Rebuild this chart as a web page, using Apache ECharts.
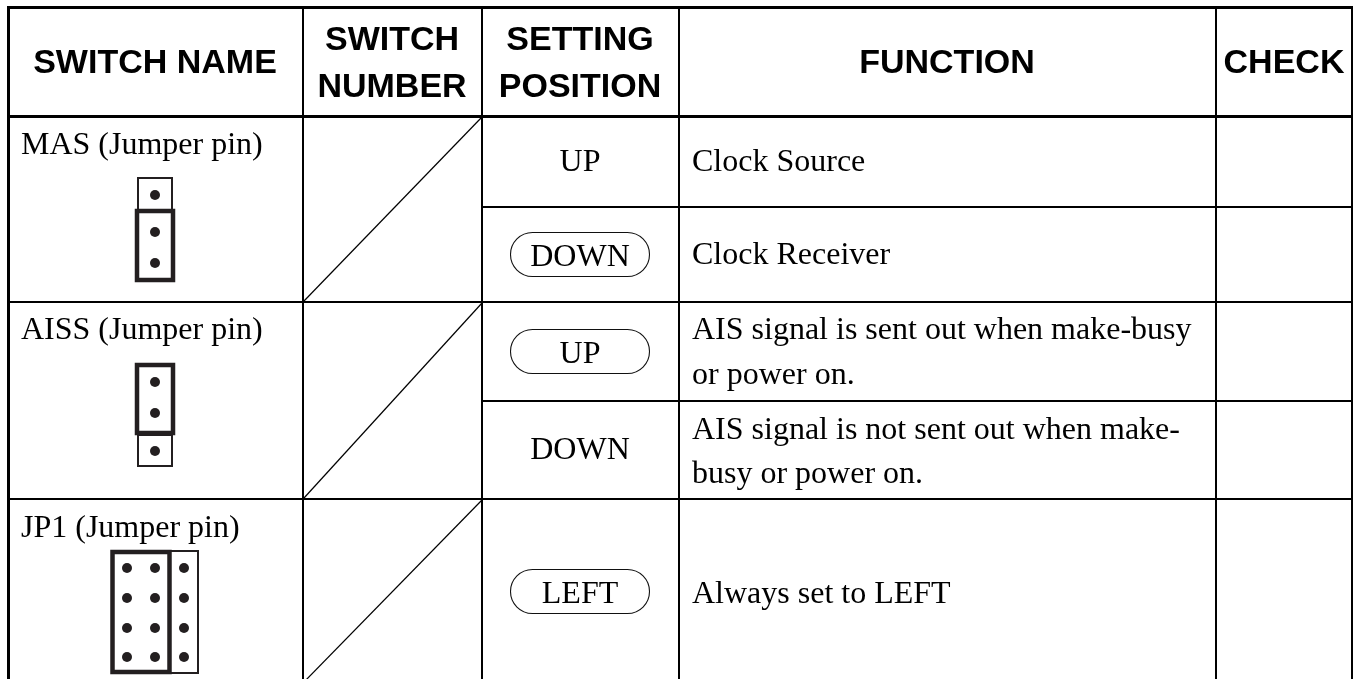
<!DOCTYPE html>
<html>
<head>
<meta charset="utf-8">
<title>Switch settings</title>
<style>
  html, body { margin: 0; padding: 0; background: #fff; }
  #chart { width: 1353px; height: 679px; }
</style>
<script src="https://cdn.jsdelivr.net/npm/echarts@6/dist/echarts.min.js"></script>
</head>
<body>
<div id="chart"></div>
<script>
// table content
const headerLabels = [["SWITCH NAME"], ["SWITCH", "NUMBER"], ["SETTING", "POSITION"], ["FUNCTION"], ["CHECK"]];
const switchNames = ["MAS (Jumper pin)", "AISS (Jumper pin)", "JP1 (Jumper pin)"];
const settingPositions = ["UP", "DOWN", "UP", "DOWN", "LEFT"];
const selectedPositions = [false, true, true, false, true];
const functionLines = [
  ["Clock Source"],
  ["Clock Receiver"],
  ["AIS signal is sent out when make-busy", "or power on."],
  ["AIS signal is not sent out when make-", "busy or power on."],
  ["Always set to LEFT"]
];

// layout, in page pixels (the axes below run 1:1)
const columnEdges = [8.5, 303, 482, 679, 1216, 1352];
const rowEdges = [7.5, 116.5, 207, 302, 401, 499];
const headerCenters = [155, 392, 580, 947, 1284];
const headerLineY = [[61], [38, 85], [38, 85], [61], [61]];
const textDrop = 3; // "middle" sits a little above the cap centre
const nameX = 21;
const nameY = [143, 328, 526];
const positionX = 580;
const positionY = [160, 255, 352, 448, 592];
const functionX = 692;
const functionY = [[160], [253], [328, 373], [428, 472], [592]];
const pillWidth = 139;
const pillHeight = 44;
const diagonals = [[304, 301, 482, 117], [304, 498, 482, 303], [304, 682, 482, 500]];
const jumpers = [
  { thin: [138, 178, 34, 32], thick: [137, 211, 36, 69], pinX: [155], pinY: [195, 232, 263] },
  { thin: [138, 435, 34, 31], thick: [137, 365, 36, 68], pinX: [155], pinY: [382, 413, 451] },
  { thin: [112, 551, 86, 122], thick: [112.5, 552, 57, 120], pinX: [127, 155, 184], pinY: [568, 598, 628, 657] }
];

const SANS = "Liberation Sans";
const SERIF = "Liberation Serif";

const rules = [];
columnEdges.forEach((x, i) => {
  const w = i === 0 ? 3 : 2;
  rules.push([x, i === 0 || i === 5 ? 6 : 7, x, 679, w]);
});
rowEdges.forEach((y, i) => {
  const w = i < 2 ? 3 : 2;
  const startCol = i === 2 || i === 4 ? 2 : 0;
  rules.push([columnEdges[startCol], y, columnEdges[5], y, w]);
});
diagonals.forEach((d) => rules.push([...d, 1.2]));

const texts = [];
headerLabels.forEach((lines, c) => {
  lines.forEach((line, l) => {
    texts.push({ value: [headerCenters[c], headerLineY[c][l] + textDrop], text: line, font: `bold 34px "${SANS}"`, align: "center" });
  });
});
switchNames.forEach((name, i) => {
  texts.push({ value: [nameX, nameY[i] + textDrop], text: name, font: `32px "${SERIF}"`, align: "left" });
});
settingPositions.forEach((pos, i) => {
  texts.push({ value: [positionX, positionY[i] + textDrop], text: pos, font: `32px "${SERIF}"`, align: "center" });
});
functionLines.forEach((lines, r) => {
  lines.forEach((line, l) => {
    texts.push({ value: [functionX, functionY[r][l] + textDrop], text: line, font: `32px "${SERIF}"`, align: "left" });
  });
});

const pills = [];
selectedPositions.forEach((on, i) => {
  if (on) pills.push([positionX, positionY[i] - 0.5]);
});

const boxes = [];
const pins = [];
jumpers.forEach((j) => {
  boxes.push([...j.thin, 2]);
  boxes.push([...j.thick, 4.5]);
  j.pinX.forEach((x) => j.pinY.forEach((y) => pins.push([x, y])));
});

const chart = echarts.init(document.getElementById("chart"), null, { renderer: "canvas" });

chart.setOption({
  animation: false,
  backgroundColor: "#fff",
  grid: { left: 0, right: 0, top: 0, bottom: 0 },
  xAxis: { type: "value", min: 0, max: 1353, show: false },
  yAxis: { type: "value", min: 0, max: 679, inverse: true, show: false },
  series: [
    {
      type: "custom",
      name: "rules",
      silent: true,
      data: rules,
      renderItem: (params, api) => {
        const a = api.coord([api.value(0), api.value(1)]);
        const b = api.coord([api.value(2), api.value(3)]);
        return {
          type: "line",
          shape: { x1: a[0], y1: a[1], x2: b[0], y2: b[1] },
          style: { stroke: "#000", lineWidth: api.value(4) }
        };
      }
    },
    {
      type: "custom",
      name: "pills",
      silent: true,
      data: pills,
      renderItem: (params, api) => {
        const c = api.coord([api.value(0), api.value(1)]);
        return {
          type: "rect",
          shape: { x: c[0] - pillWidth / 2, y: c[1] - pillHeight / 2, width: pillWidth, height: pillHeight, r: pillHeight / 2 },
          style: { fill: "none", stroke: "#111", lineWidth: 1.1 }
        };
      }
    },
    {
      type: "custom",
      name: "jumper boxes",
      silent: true,
      data: boxes,
      renderItem: (params, api) => {
        const c = api.coord([api.value(0), api.value(1)]);
        return {
          type: "rect",
          shape: { x: c[0], y: c[1], width: api.value(2), height: api.value(3) },
          style: { fill: "none", stroke: "#231f20", lineWidth: api.value(4) }
        };
      }
    },
    {
      type: "custom",
      name: "jumper pins",
      silent: true,
      data: pins,
      renderItem: (params, api) => {
        const c = api.coord([api.value(0), api.value(1)]);
        return {
          type: "circle",
          shape: { cx: c[0], cy: c[1], r: 5 },
          style: { fill: "#231f20" }
        };
      }
    },
    {
      type: "custom",
      name: "text",
      silent: true,
      data: texts,
      renderItem: (params, api) => {
        const item = texts[params.dataIndex];
        const c = api.coord(item.value);
        return {
          type: "text",
          style: {
            x: c[0],
            y: c[1],
            text: item.text,
            font: item.font,
            fill: "#000",
            align: item.align,
            verticalAlign: "middle"
          }
        };
      }
    }
  ]
});

window.addEventListener("resize", () => chart.resize());
</script>
</body>
</html>
